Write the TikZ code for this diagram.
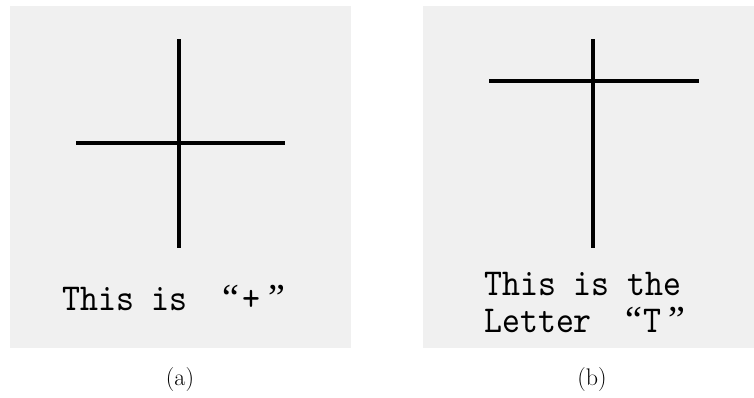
\documentclass[tikz,border=0pt]{standalone}
\usepackage{fontspec}
\newfontfamily\simfont[FakeStretch=0.9]{lmmono10-regular.otf}
\newfontfamily\quotefont{Liberation Serif}
\newcommand{\openq}{{\quotefont“}}
\newcommand{\closeq}{{\quotefont”}}
\usetikzlibrary{positioning}

\begin{document}
\begin{tikzpicture}[x=1pt, y=-1pt,
    panel/.style={fill=black!6, draw=none},
    stroke/.style={line width=3.5pt, black},
    label/.style={font=\simfont\fontsize{38}{37}\selectfont, inner sep=0pt, anchor=base west},
    caption/.style={font=\fontsize{24}{28}\selectfont, inner sep=0pt}]
    \useasboundingbox (0,0) rectangle (754,397);
    % 左图：加号
    \fill[panel] (10,6) rectangle (351,348);
    \draw[stroke] (179,39) -- (179,248);
    \draw[stroke] (76,143) -- (285,143);
    \node[label] (plus) at (62,310) {This is\kern35pt\openq\kern3pt+\kern8pt\closeq};
    \node[caption] (capa) at (180,380) {(a)};
    % 右图：字母T
    \fill[panel] (423,6) rectangle (754,348);
    \draw[stroke] (593,39) -- (593,248);
    \draw[stroke] (489,81) -- (699,81);
    \node[label] (letter1) at (484,295) {This is the};
    \node[label] (letter2) at (484,332) {Letter\kern34pt\openq\kern1pt T\kern7pt\closeq};
    \node[caption] (capb) at (592,380) {(b)};
\end{tikzpicture}
\end{document}
